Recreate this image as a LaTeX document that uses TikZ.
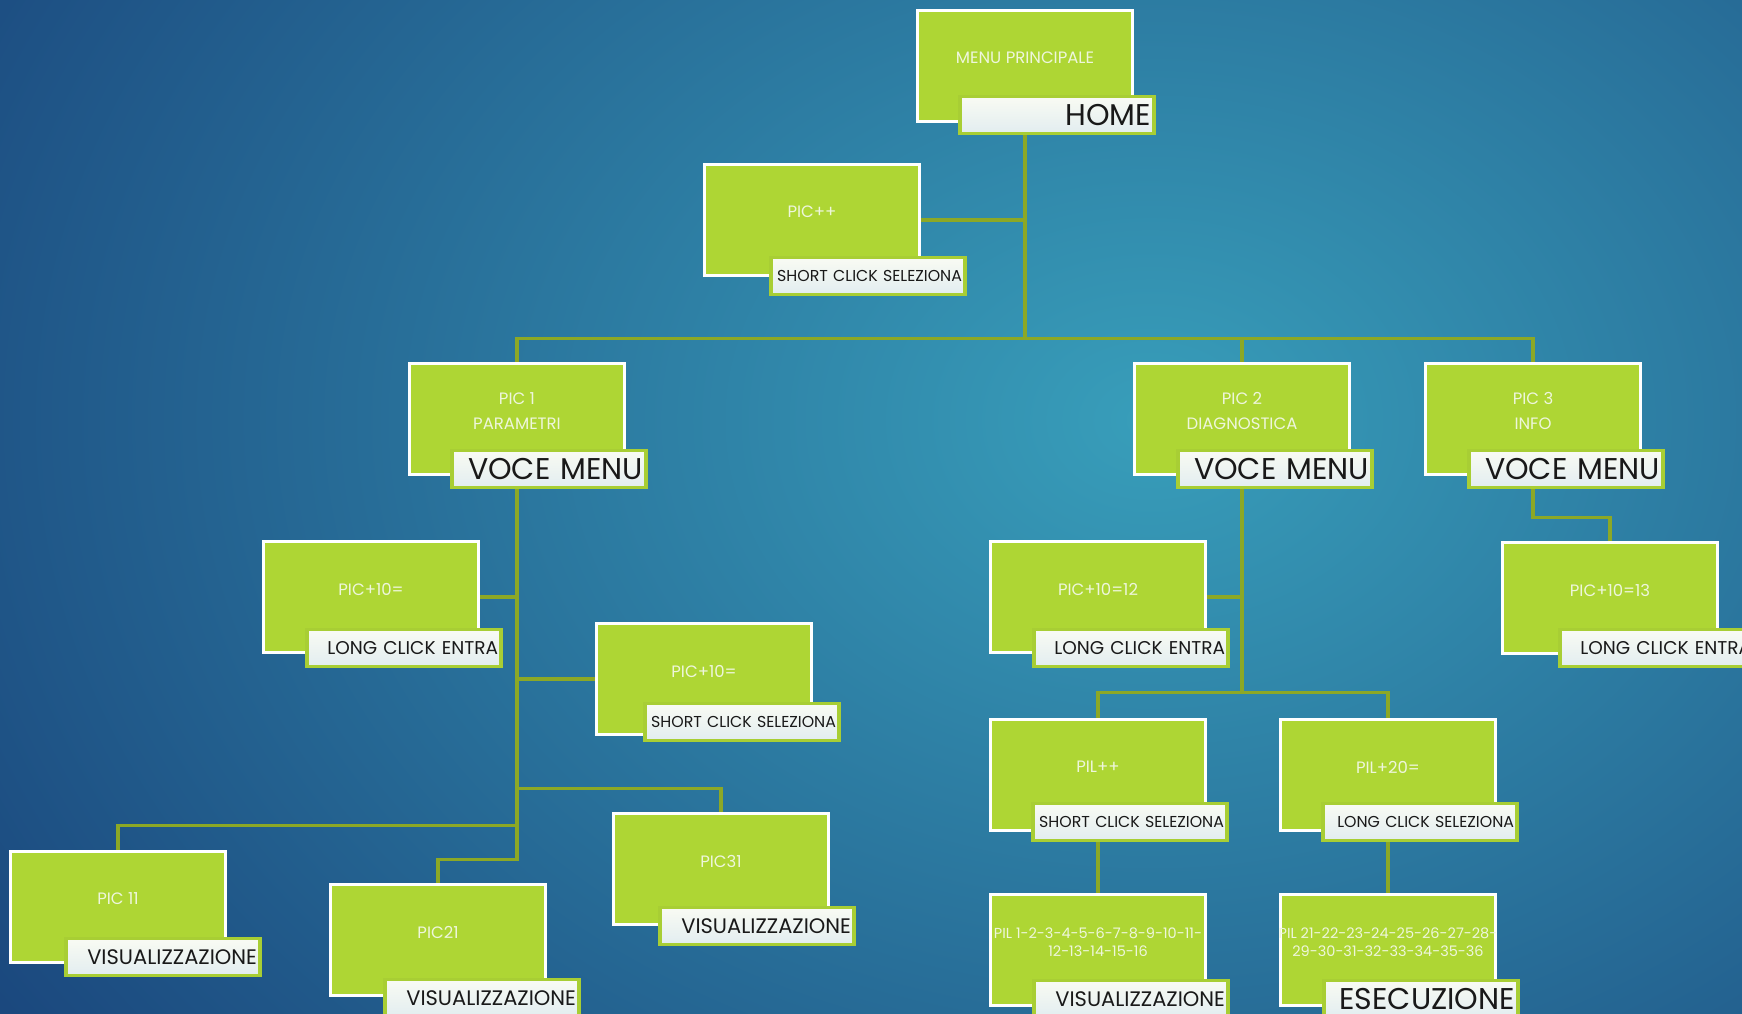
\documentclass[tikz,border=0pt]{standalone}
\usepackage{fontspec}
\setmainfont{Poppins}
\usetikzlibrary{arrows}
\definecolor{bgin}{RGB}{56,158,186}
\definecolor{bgout}{RGB}{20,52,112}
\definecolor{leafgreen}{RGB}{174,214,52}
\definecolor{rimgreen}{RGB}{168,206,52}
\definecolor{wiregreen}{RGB}{140,168,38}
\definecolor{paletext}{RGB}{238,246,220}
\definecolor{tagtop}{RGB}{249,251,243}
\definecolor{tagbot}{RGB}{226,237,240}
\pgfdeclarelayer{bg}
\pgfdeclarelayer{wires}
\pgfsetlayers{bg,wires,main}

\begin{document}
\begin{tikzpicture}[x=1pt,y=-1pt,
  panelbase/.style={draw=white,line width=3.5pt,fill=leafgreen,minimum width=215pt,minimum height=111pt},
  panel/.style={panelbase,label={[boxtxt]center:#1}},
  numpanel/.style={panelbase,label={[boxtxt,font=\fontsize{14.5}{18}\selectfont]center:#1}},
  boxtxt/.style={text=paletext,align=center,yshift=8pt,font=\fontsize{16.5}{19}\selectfont},
  tagbox/.style={draw=rimgreen,line width=3.5pt,top color=tagtop,bottom color=tagbot,minimum height=37pt,text width=188pt,inner xsep=3pt,inner ysep=2pt,align=right,text=black!90},
  bigtxt/.style={font=\fontsize{30}{31}\selectfont},
  midtxt/.style={font=\fontsize{18.5}{20}\selectfont},
  widetxt/.style={font=\fontsize{21}{22}\selectfont},
  smalltxt/.style={font=\fontsize{15.8}{18}\selectfont},
  wire/.style={draw=wiregreen,line width=3.5pt}]
\useasboundingbox (0,0) rectangle (1742,1013);
\begin{pgfonlayer}{bg}
\clip (0,0) rectangle (1742,1013);
\shade[inner color=bgin,outer color=bgout] (1150,420) ellipse (1700pt and 1300pt);
\end{pgfonlayer}

\node[panel={MENU PRINCIPALE}] (home) at (1025,66) {};
\node[tagbox,bigtxt] (homeT) at (1057,115) {HOME};
\node[panel={PIC++}] (picpp) at (812,220) {};
\node[tagbox,smalltxt] (picppT) at (868,276) {SHORT CLICK SELEZIONA};

\node[panel={PIC 1\\[6pt]PARAMETRI}] (pic1) at (517,419) {};
\node[tagbox,bigtxt] (pic1T) at (549,469) {VOCE MENU};
\node[panel={PIC 2\\[6pt]DIAGNOSTICA}] (pic2) at (1242,419) {};
\node[tagbox,bigtxt] (pic2T) at (1275,469) {VOCE MENU};
\node[panel={PIC 3\\[6pt]INFO}] (pic3) at (1533,419) {};
\node[tagbox,bigtxt] (pic3T) at (1566,469) {VOCE MENU};

\node[panel={PIC+10=}] (pic10a) at (371,597) {};
\node[tagbox,midtxt] (pic10aT) at (404,648) {LONG CLICK ENTRA};
\node[panel={PIC+10=}] (pic10b) at (704,679) {};
\node[tagbox,smalltxt] (pic10bT) at (742,722) {SHORT CLICK SELEZIONA};
\node[panel={PIC+10=12}] (pic10c) at (1098,597) {};
\node[tagbox,midtxt] (pic10cT) at (1131,648) {LONG CLICK ENTRA};
\node[panel={PIC+10=13}] (pic10d) at (1610,598) {};
\node[tagbox,midtxt] (pic10dT) at (1657,648) {LONG CLICK ENTRA};

\node[panel={PIL++}] (pilpp) at (1098,775) {};
\node[tagbox,smalltxt] (pilppT) at (1130,822) {SHORT CLICK SELEZIONA};
\node[panel={PIL+20=}] (pil20) at (1388,775) {};
\node[tagbox,smalltxt] (pil20T) at (1420,822) {LONG CLICK SELEZIONA};

\node[panel={PIC31}] (pic31) at (721,869) {};
\node[tagbox,widetxt] (pic31T) at (757,926) {VISUALIZZAZIONE};
\node[panel={PIC 11}] (pic11) at (118,907) {};
\node[tagbox,widetxt] (pic11T) at (163,957) {VISUALIZZAZIONE};
\node[panel={PIC21}] (pic21) at (438,940) {};
\node[tagbox,widetxt] (pic21T) at (482,998) {VISUALIZZAZIONE};
\node[numpanel={PIL 1-2-3-4-5-6-7-8-9-10-11-\\12-13-14-15-16}] (pil1) at (1098,950) {};
\node[tagbox,widetxt] (pil1T) at (1131,999) {VISUALIZZAZIONE};
\node[numpanel={PIL 21-22-23-24-25-26-27-28-\\29-30-31-32-33-34-35-36}] (pil21) at (1388,950) {};
\node[tagbox,bigtxt] (pil21T) at (1421,999) {ESECUZIONE};

\begin{pgfonlayer}{wires}
\path (home.south) ++(0,215) coordinate (trunk);
\draw[wire] (home) -- (trunk);
\draw[wire] (picpp.east) -| (trunk);
\draw[wire] (pic1.north) |- (trunk) -| (pic3.north);
\draw[wire] (trunk) -| (pic2.north);
\draw[wire] (pic1.south) |- (pic10a.east);
\draw[wire] (pic1.south) |- (pic10b.west);
\draw[wire] (pic1.south) -- ++(0,312) -| (pic31.north);
\draw[wire] (pic1.south) -- ++(0,349) -| (pic11.north);
\draw[wire] (pic1.south) -- ++(0,383) -| (pic21.north);
\draw[wire] (pic2.south) |- (pic10c.east);
\draw[wire] (pic2.south) -- ++(0,216) coordinate (fork2);
\draw[wire] (pilpp.north) |- (fork2) -| (pil20.north);
\draw[wire] (pilpp) -- (pil1);
\draw[wire] (pil20) -- (pil21);
\draw[wire] (pic3.south) -- ++(0,41) -| (pic10d.north);
\end{pgfonlayer}
\end{tikzpicture}
\end{document}
